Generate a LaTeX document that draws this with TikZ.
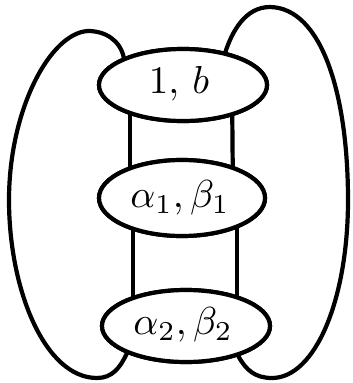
\documentclass[tikz,border=0pt]{standalone}
\usepackage{graphicx}
\usetikzlibrary{shapes.geometric,calc}
\newcommand{\bigtxt}[1]{\scalebox{3.9}{#1}}
\begin{document}
\begin{tikzpicture}[x=1pt,y=-1pt,line join=round,line cap=round,
  ring/.style={draw,ellipse,line width=4.2pt,fill=white,inner sep=0pt},
  edge/.style={line width=4.2pt}]
\useasboundingbox (0,0) rectangle (353,383);
\node[ring,minimum width=168pt,minimum height=72pt] (t) at (183,85) {};
\node[ring,minimum width=166pt,minimum height=76pt] (m) at (182,198) {};
\node[ring,minimum width=168pt,minimum height=72pt] (b) at (186,326) {};
% loops
\draw[edge] (t.155) .. controls (120,40) and (105,31) .. (88,31)
  .. controls (50,33) and (9,110) .. (9,200)
  .. controls (9,290) and (45,378) .. (97,378)
  .. controls (112,378) and (120,368) .. (b.205);
\draw[edge] (t.38) .. controls (232,32) and (245,7) .. (270,7)
  .. controls (322,8) and (348,95) .. (348,200)
  .. controls (348,300) and (315,378) .. (272,378)
  .. controls (255,378) and (246,370) .. (b.330);
% verticals
\draw[edge] ($(t.center)+(-53,0)$) -- ($(m.center)+(-52,0)$);
\draw[edge] ($(t.center)+(49,0)$) -- ($(m.center)+(51,0)$);
\draw[edge] ($(m.center)+(-49,0)$) -- ($(b.center)+(-53,0)$);
\draw[edge] ($(m.center)+(55,0)$) -- ($(b.center)+(51,0)$);
% ellipses on top
\node[ring,minimum width=168pt,minimum height=72pt] (t2) at (t) {};
\node[ring,minimum width=166pt,minimum height=76pt] (m2) at (m) {};
\node[ring,minimum width=168pt,minimum height=72pt] (b2) at (b) {};
\node (lt) at (179,84) {\bigtxt{$1,\,b$}};
\node (lm) at (180,198) {\bigtxt{$\alpha_1,\beta_1$}};
\node (lb) at (183,325) {\bigtxt{$\alpha_2,\beta_2$}};
\end{tikzpicture}
\end{document}
